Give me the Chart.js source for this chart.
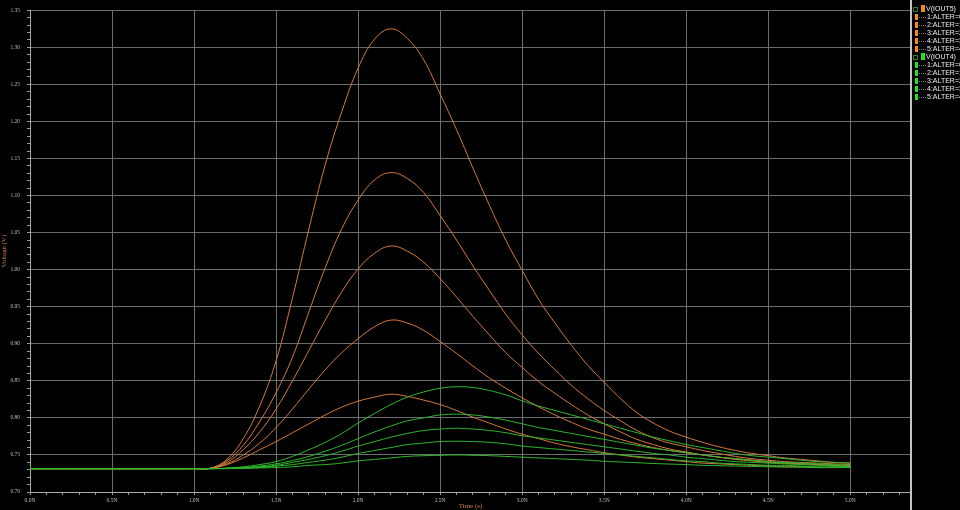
<!DOCTYPE html>
<html>
<head>
<meta charset="utf-8">
<script src="https://cdn.jsdelivr.net/npm/chart.js@4.4.1/dist/chart.umd.min.js"></script>
<style>
    body { margin: 0; background: #000; width: 960px; height: 510px; overflow: hidden; position: relative; }
    #wrap { position: absolute; left: 0; top: 0; width: 911px; height: 510px; }
    #legend { position: absolute; left: 910px; top: 0; width: 48px; height: 510px; border-left: 2px solid #c4c4c4; overflow: hidden; font: 7px "Liberation Sans", sans-serif; color: #ececec; }
    .row { position: absolute; left: 0; height: 8px; white-space: nowrap; }
    .row span { position: absolute; }
</style>
</head>
<body>
<div id="wrap"><canvas id="waveChart" width="911" height="510"></canvas></div>
<div id="legend"></div>
<script>
// time axis (ns)
const timeNs = [0, 1.0, 1.1, 1.2, 1.3, 1.4, 1.5, 1.6, 1.7, 1.8, 1.9, 2.0, 2.1, 2.2, 2.3, 2.4, 2.5, 2.6, 2.7, 2.8, 2.9, 3.0,
    3.1, 3.2, 3.3, 3.4, 3.5, 3.6, 3.7, 3.8, 3.9, 4.0, 4.1, 4.2, 4.3, 4.4, 4.5, 4.6, 4.7, 4.8, 4.9, 5.0];

// V(IOUT5), one array per ALTER run
const iout5Alter0 = [0.7315, 0.7315, 0.732, 0.744, 0.772, 0.816, 0.877, 0.962, 1.055, 1.142, 1.213, 1.272, 1.311, 1.325, 1.312, 1.283, 1.237, 1.189, 1.137, 1.087, 1.040, 0.999,
    0.960, 0.928, 0.898, 0.871, 0.848, 0.826, 0.807, 0.793, 0.782, 0.774, 0.767, 0.761, 0.756, 0.752, 0.749, 0.746, 0.744, 0.742, 0.740, 0.739];
const iout5Alter1 = [0.7315, 0.7315, 0.732, 0.742, 0.763, 0.795, 0.834, 0.882, 0.943, 1.003, 1.055, 1.094, 1.121, 1.131, 1.123, 1.104, 1.073, 1.040, 1.005, 0.972, 0.940, 0.912,
    0.887, 0.865, 0.844, 0.826, 0.810, 0.796, 0.783, 0.773, 0.766, 0.761, 0.756, 0.752, 0.748, 0.745, 0.743, 0.741, 0.740, 0.739, 0.738, 0.737];
const iout5Alter2 = [0.7315, 0.7315, 0.732, 0.740, 0.757, 0.781, 0.812, 0.850, 0.891, 0.932, 0.970, 1.001, 1.022, 1.032, 1.025, 1.010, 0.988, 0.963, 0.937, 0.912, 0.888, 0.868,
    0.849, 0.833, 0.818, 0.804, 0.792, 0.781, 0.771, 0.764, 0.758, 0.754, 0.750, 0.747, 0.744, 0.742, 0.740, 0.739, 0.738, 0.737, 0.736, 0.735];
const iout5Alter3 = [0.7315, 0.7315, 0.732, 0.738, 0.750, 0.766, 0.787, 0.812, 0.839, 0.865, 0.888, 0.907, 0.923, 0.932, 0.928, 0.918, 0.903, 0.887, 0.870, 0.854, 0.840, 0.827,
    0.815, 0.804, 0.794, 0.785, 0.778, 0.771, 0.765, 0.760, 0.756, 0.753, 0.750, 0.747, 0.745, 0.743, 0.741, 0.739, 0.738, 0.737, 0.736, 0.735];
const iout5Alter4 = [0.7315, 0.7315, 0.732, 0.737, 0.746, 0.757, 0.768, 0.780, 0.792, 0.804, 0.8145, 0.8225, 0.828, 0.832, 0.829, 0.824, 0.818, 0.810, 0.801, 0.793, 0.785, 0.778,
    0.772, 0.766, 0.761, 0.757, 0.753, 0.750, 0.747, 0.745, 0.743, 0.741, 0.739, 0.738, 0.737, 0.736, 0.735, 0.734, 0.734, 0.733, 0.733, 0.733];

// V(IOUT4)
const iout4Alter0 = [0.7315, 0.7315, 0.7315, 0.732, 0.734, 0.737, 0.741, 0.748, 0.757, 0.767, 0.779, 0.793, 0.806, 0.818, 0.828, 0.835, 0.840, 0.842, 0.841, 0.837, 0.831, 0.823,
    0.816, 0.810, 0.804, 0.798, 0.792, 0.786, 0.780, 0.774, 0.769, 0.764, 0.760, 0.756, 0.752, 0.749, 0.747, 0.745, 0.743, 0.741, 0.740, 0.739];
const iout4Alter1 = [0.7315, 0.7315, 0.7315, 0.732, 0.733, 0.735, 0.738, 0.7425, 0.748, 0.755, 0.763, 0.772, 0.781, 0.789, 0.796, 0.800, 0.804, 0.805, 0.804, 0.801, 0.797, 0.792,
    0.787, 0.783, 0.779, 0.775, 0.771, 0.767, 0.763, 0.759, 0.756, 0.753, 0.750, 0.747, 0.745, 0.743, 0.741, 0.740, 0.739, 0.738, 0.737, 0.736];
const iout4Alter2 = [0.7315, 0.7315, 0.7315, 0.732, 0.733, 0.734, 0.736, 0.740, 0.744, 0.749, 0.755, 0.762, 0.768, 0.774, 0.779, 0.783, 0.785, 0.786, 0.785, 0.783, 0.780, 0.776,
    0.773, 0.770, 0.767, 0.764, 0.761, 0.758, 0.755, 0.752, 0.750, 0.747, 0.745, 0.743, 0.741, 0.740, 0.739, 0.738, 0.737, 0.736, 0.735, 0.735];
const iout4Alter3 = [0.7315, 0.7315, 0.7315, 0.732, 0.732, 0.733, 0.735, 0.737, 0.740, 0.743, 0.747, 0.752, 0.756, 0.760, 0.764, 0.766, 0.768, 0.7685, 0.768, 0.767, 0.765, 0.762,
    0.760, 0.758, 0.756, 0.754, 0.752, 0.750, 0.748, 0.746, 0.744, 0.742, 0.741, 0.739, 0.738, 0.737, 0.736, 0.736, 0.735, 0.734, 0.734, 0.734];
const iout4Alter4 = [0.7315, 0.7315, 0.7315, 0.7315, 0.732, 0.7325, 0.733, 0.734, 0.736, 0.737, 0.739, 0.742, 0.744, 0.746, 0.748, 0.749, 0.7495, 0.750, 0.7495, 0.749, 0.748, 0.747,
    0.746, 0.745, 0.744, 0.743, 0.7415, 0.7405, 0.7395, 0.7385, 0.7377, 0.737, 0.736, 0.7355, 0.735, 0.7345, 0.734, 0.7337, 0.7334, 0.733, 0.733, 0.733];

const legendGroups = ['V(IOUT5)', 'V(IOUT4)'];
const alterLabels = ['1:ALTER=0', '2:ALTER=1', '3:ALTER=2', '4:ALTER=3', '5:ALTER=4'];

const xMajorTicks = [0, 0.5, 1.0, 1.5, 2.0, 2.5, 3.0, 3.5, 4.0, 4.5, 5.0];
const xTickLabels = ['0.0N', '0.5N', '1.0N', '1.5N', '2.0N', '2.5N', '3.0N', '3.5N', '4.0N', '4.5N', '5.0N'];
const yMajorTicks = [0.70, 0.75, 0.80, 0.85, 0.90, 0.95, 1.00, 1.05, 1.10, 1.15, 1.20, 1.25, 1.30, 1.35];
const yTickLabels = ['0.70', '0.75', '0.80', '0.85', '0.90', '0.95', '1.00', '1.05', '1.10', '1.15', '1.20', '1.25', '1.30', '1.35'];

const ORANGE_LINE = '#d47a3c';
const GREEN_LINE = '#2fb82f';
const ORANGE_BOX = '#f28a1e';
const GREEN_BOX = '#1fe01f';

const iout5Runs = [iout5Alter0, iout5Alter1, iout5Alter2, iout5Alter3, iout5Alter4];
const iout4Runs = [iout4Alter0, iout4Alter1, iout4Alter2, iout4Alter3, iout4Alter4];

function toPoints(values) {
    return values.map((v, i) => ({ x: timeNs[i], y: v }));
}

function majorIndex(list, value) {
    return list.findIndex(t => Math.abs(t - value) < 1e-6);
}

const datasets = [
    ...iout5Runs.map((run, i) => ({ label: 'V(IOUT5) ' + alterLabels[i], data: toPoints(run), borderColor: ORANGE_LINE, order: 1 })),
    ...iout4Runs.map((run, i) => ({ label: 'V(IOUT4) ' + alterLabels[i], data: toPoints(run), borderColor: GREEN_LINE, order: 0 }))
].map(ds => Object.assign(ds, { borderWidth: 1, pointRadius: 0, fill: false, tension: 0.4 }));

new Chart(document.getElementById('waveChart'), {
    type: 'line',
    data: { datasets },
    options: {
        responsive: false,
        animation: false,
        events: [],
        layout: { padding: { top: 8, right: 0, left: 0, bottom: 0 } },
        plugins: { legend: { display: false }, tooltip: { enabled: false } },
        scales: {
            x: {
                type: 'linear',
                min: 0,
                max: 5.37,
                afterFit: s => { s.height = 18; },
                border: { color: '#a8a8a8', width: 1 },
                grid: {
                    color: c => (c.tick && majorIndex(xMajorTicks, c.tick.value) >= 0) ? '#6c6c6c' : 'rgba(0,0,0,0)',
                    tickColor: '#9a9a9a',
                    tickLength: 3
                },
                ticks: {
                    stepSize: 0.1,
                    maxTicksLimit: 200,
                    includeBounds: false,
                    autoSkip: false,
                    maxRotation: 0,
                    padding: 2,
                    color: '#bdbdbd',
                    font: { family: '"Liberation Serif", serif', size: 5.5 },
                    callback: v => { const i = majorIndex(xMajorTicks, v); return i >= 0 ? xTickLabels[i] : ''; }
                },
                title: { display: true, text: 'Time (s)', color: '#c98150', padding: 0, font: { family: '"Liberation Serif", serif', size: 7 } }
            },
            y: {
                type: 'linear',
                min: 0.70,
                max: 1.35,
                afterFit: s => { s.width = 30; },
                border: { color: '#a8a8a8', width: 1 },
                grid: {
                    color: c => (c.tick && majorIndex(yMajorTicks, c.tick.value) >= 0) ? '#6c6c6c' : 'rgba(0,0,0,0)',
                    tickColor: '#9a9a9a',
                    tickLength: 3
                },
                ticks: {
                    stepSize: 0.01,
                    maxTicksLimit: 200,
                    autoSkip: false,
                    padding: 7,
                    color: '#bdbdbd',
                    font: { family: '"Liberation Serif", serif', size: 5.5 },
                    callback: v => { const i = majorIndex(yMajorTicks, v); return i >= 0 ? yTickLabels[i] : ''; }
                },
                title: { display: true, text: 'Voltage (V)', color: '#c98150', padding: 0, font: { family: '"Liberation Serif", serif', size: 7 } }
            }
        }
    }
});

// waveform list on the right
const legendEl = document.getElementById('legend');
const groupColors = [ORANGE_BOX, GREEN_BOX];
let rowIdx = 0;
legendGroups.forEach((name, g) => {
    const head = document.createElement('div');
    head.className = 'row';
    head.style.top = (5 + rowIdx * 8) + 'px';
    head.style.width = '60px';
    head.innerHTML =
        `<span style="left:1px;top:2px;width:3px;height:3px;border:1px solid #2e7a2e"></span>` +
        `<span style="left:9px;top:0;width:4px;height:7px;background:${groupColors[g]}"></span>` +
        `<span style="left:14px;top:0;line-height:8px">${name}</span>`;
    legendEl.appendChild(head);
    rowIdx++;
    alterLabels.forEach(lbl => {
        const row = document.createElement('div');
        row.className = 'row';
        row.style.top = (5 + rowIdx * 8) + 'px';
        row.style.width = '60px';
        row.innerHTML =
            `<span style="left:3px;top:1px;width:3px;height:6px;background:${groupColors[g]}"></span>` +
            `<span style="left:7px;top:4px;width:7px;border-top:1px dotted #7a7a7a"></span>` +
            `<span style="left:15px;top:0;line-height:8px">${lbl}</span>`;
        legendEl.appendChild(row);
        rowIdx++;
    });
});
</script>
</body>
</html>
